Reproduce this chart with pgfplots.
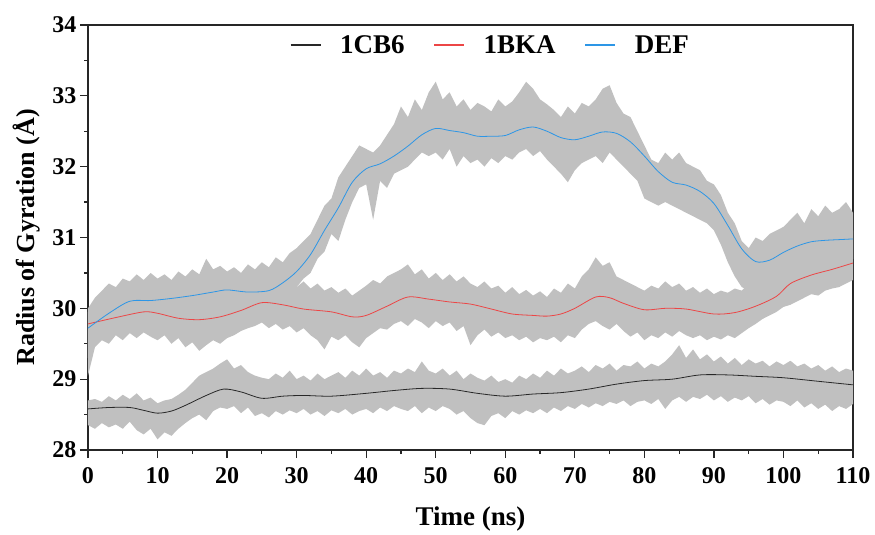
\documentclass[border=0pt]{standalone}
\usepackage{pgfplots}
\pgfplotsset{compat=1.18}
\usepackage{pgfplotstable}
\usepgfplotslibrary{fillbetween}
\usepackage{fontspec}
\setmainfont{Liberation Serif}

\definecolor{bandgray}{RGB}{192,192,192}
\definecolor{colCB}{RGB}{40,40,40}
\definecolor{colBKA}{RGB}{236,70,70}
\definecolor{colDEF}{RGB}{45,150,230}

% 1CB6 smoothed line
\pgfplotstableread{
t y
0 28.58
3 28.60
6 28.60
8 28.56
10 28.52
12 28.55
14 28.63
17 28.77
19.5 28.86
22 28.82
25 28.73
28 28.76
31 28.77
35 28.76
40 28.80
44 28.84
48 28.87
52 28.86
56 28.80
60 28.76
64 28.79
68 28.81
72 28.86
76 28.93
80 28.98
84 29.00
88 29.06
92 29.06
96 29.04
100 29.02
105 28.97
110 28.92
}\tabCBline

% 1BKA smoothed line
\pgfplotstableread{
t y
0 29.78
4 29.87
8 29.95
10 29.93
13 29.86
16 29.84
19 29.88
22 29.97
25 30.08
28 30.05
31 29.99
35 29.95
38 29.88
40 29.90
43 30.03
46 30.16
49 30.13
52 30.09
55 30.06
58 29.99
61 29.92
64 29.90
66 29.89
68 29.92
70 30.00
73 30.16
75 30.15
77 30.07
80 29.98
83 30.00
86 29.99
90 29.92
93 29.94
96 30.03
99 30.17
101 30.35
104 30.47
107 30.55
110 30.64
}\tabBKAline

% DEF smoothed line
\pgfplotstableread{
t y
0 29.72
3 29.93
6 30.10
9 30.11
12 30.14
15 30.18
18 30.23
20 30.26
23 30.23
26 30.25
28 30.36
30 30.52
32 30.76
34 31.10
36 31.42
38 31.78
40 31.97
42 32.04
44 32.15
46 32.29
48 32.45
50 32.54
52 32.51
54 32.48
56 32.43
58 32.43
60 32.44
62 32.52
64 32.56
66 32.50
68 32.41
70 32.38
72 32.43
74 32.49
76 32.47
78 32.35
80 32.15
82 31.93
84 31.78
86 31.74
88 31.65
90 31.48
92 31.17
94 30.84
96 30.66
98 30.68
100 30.79
102 30.88
104 30.94
106 30.96
108 30.97
110 30.98
}\tabDEFline

% 1CB6 raw band
\pgfplotstableread{
t lo hi
0 28.35 28.70
1 28.30 28.72
2 28.38 28.68
3 28.32 28.76
4 28.36 28.70
5 28.30 28.78
6 28.40 28.72
7 28.28 28.80
8 28.22 28.70
9 28.30 28.74
10 28.15 28.66
11 28.25 28.70
12 28.20 28.72
13 28.30 28.78
14 28.38 28.85
15 28.45 28.95
16 28.50 29.05
17 28.42 29.10
18 28.55 29.15
19 28.60 29.22
20 28.58 29.28
21 28.62 29.15
22 28.52 29.20
23 28.60 29.10
24 28.48 29.05
25 28.52 29.02
26 28.46 29.00
27 28.55 29.08
28 28.50 29.02
29 28.56 29.12
30 28.52 29.00
31 28.58 29.05
32 28.50 28.98
33 28.55 29.08
34 28.48 29.00
35 28.56 29.05
36 28.52 29.10
37 28.58 29.02
38 28.50 29.12
39 28.55 29.05
40 28.58 29.15
41 28.52 29.05
42 28.60 29.10
43 28.55 29.02
44 28.62 29.12
45 28.58 29.08
46 28.55 29.15
47 28.62 29.10
48 28.52 29.25
49 28.60 29.12
50 28.55 29.08
51 28.62 29.15
52 28.58 29.05
53 28.50 29.12
54 28.55 29.00
55 28.45 29.08
56 28.38 29.02
57 28.35 28.98
58 28.48 29.05
59 28.52 28.96
60 28.45 29.00
61 28.55 28.95
62 28.50 29.05
63 28.56 29.00
64 28.52 29.08
65 28.58 29.02
66 28.52 29.12
67 28.60 29.05
68 28.55 29.15
69 28.62 29.08
70 28.58 29.12
71 28.65 29.18
72 28.60 29.10
73 28.66 29.20
74 28.62 29.15
75 28.68 29.22
76 28.65 29.12
77 28.70 29.20
78 28.62 29.18
79 28.68 29.25
80 28.70 29.15
81 28.65 29.22
82 28.72 29.18
83 28.58 29.25
84 28.70 29.35
85 28.75 29.48
86 28.68 29.30
87 28.75 29.42
88 28.72 29.28
89 28.78 29.35
90 28.70 29.25
91 28.76 29.32
92 28.68 29.22
93 28.74 29.30
94 28.70 29.20
95 28.76 29.28
96 28.66 29.22
97 28.72 29.26
98 28.64 29.18
99 28.70 29.25
100 28.68 29.20
101 28.62 29.26
102 28.70 29.18
103 28.60 29.22
104 28.66 29.15
105 28.58 29.20
106 28.64 29.12
107 28.55 29.18
108 28.62 29.10
109 28.58 29.15
110 28.65 29.12
}\cbband

% 1BKA raw band
\pgfplotstableread{
t lo hi
0 29.05 29.95
1 29.45 30.05
2 29.55 30.10
3 29.50 30.20
4 29.62 30.15
5 29.55 30.28
6 29.65 30.20
7 29.58 30.32
8 29.66 30.25
9 29.60 30.35
10 29.55 30.22
11 29.62 30.30
12 29.50 30.20
13 29.58 30.28
14 29.45 30.18
15 29.52 30.25
16 29.40 30.20
17 29.48 30.30
18 29.55 30.22
19 29.50 30.32
20 29.58 30.25
21 29.62 30.38
22 29.68 30.30
23 29.72 30.42
24 29.75 30.35
25 29.80 30.48
26 29.72 30.38
27 29.78 30.45
28 29.70 30.35
29 29.75 30.42
30 29.66 30.30
31 29.72 30.38
32 29.62 30.28
33 29.55 30.35
34 29.42 30.25
35 29.60 30.30
36 29.55 30.22
37 29.62 30.28
38 29.52 30.18
39 29.45 30.25
40 29.58 30.32
41 29.65 30.40
42 29.72 30.35
43 29.70 30.45
44 29.78 30.50
45 29.82 30.55
46 29.75 30.62
47 29.85 30.48
48 29.80 30.55
49 29.72 30.42
50 29.82 30.50
51 29.75 30.40
52 29.80 30.48
53 29.68 30.38
54 29.75 30.45
55 29.48 30.35
56 29.62 30.30
57 29.70 30.38
58 29.60 30.28
59 29.66 30.32
60 29.58 30.22
61 29.62 30.30
62 29.55 30.20
63 29.60 30.26
64 29.52 30.18
65 29.58 30.24
66 29.55 30.16
67 29.60 30.28
68 29.52 30.22
69 29.62 30.35
70 29.58 30.28
71 29.70 30.45
72 29.78 30.55
73 29.82 30.72
74 29.75 30.60
75 29.70 30.65
76 29.78 30.45
77 29.68 30.40
78 29.60 30.35
79 29.66 30.30
80 29.55 30.25
81 29.62 30.32
82 29.58 30.28
83 29.66 30.38
84 29.60 30.30
85 29.68 30.35
86 29.62 30.25
87 29.58 30.30
88 29.62 30.22
89 29.55 30.28
90 29.60 30.20
91 29.56 30.25
92 29.62 30.22
93 29.58 30.28
94 29.65 30.25
95 29.72 30.35
96 29.78 30.42
97 29.85 30.55
98 29.90 30.62
99 29.95 30.70
100 30.02 30.78
101 30.05 30.85
102 30.10 30.92
103 30.15 30.88
104 30.20 30.98
105 30.18 31.05
106 30.25 31.00
107 30.28 31.12
108 30.30 31.05
109 30.35 31.20
110 30.40 31.10
}\bkaband

% DEF raw band
\pgfplotstableread{
t lo hi
0 29.30 30.00
1 29.50 30.15
2 29.62 30.25
3 29.70 30.35
4 29.75 30.30
5 29.82 30.42
6 29.85 30.38
7 29.80 30.48
8 29.88 30.40
9 29.82 30.50
10 29.90 30.42
11 29.85 30.48
12 29.92 30.40
13 29.86 30.52
14 29.94 30.45
15 29.88 30.55
16 29.96 30.48
17 29.90 30.70
18 29.98 30.55
19 29.92 30.60
20 29.98 30.52
21 29.92 30.58
22 29.96 30.50
23 29.90 30.62
24 29.95 30.55
25 29.90 30.65
26 29.98 30.58
27 30.02 30.72
28 30.10 30.65
29 30.22 30.78
30 30.30 30.85
31 30.42 30.95
32 30.50 31.05
33 30.70 31.25
34 30.80 31.45
35 31.05 31.55
36 30.95 31.85
37 31.25 32.00
38 31.50 32.15
39 31.70 32.30
40 31.75 32.25
41 31.25 32.20
42 31.80 32.30
43 31.70 32.45
44 31.90 32.60
45 31.95 32.85
46 32.00 32.70
47 32.10 32.95
48 32.20 32.80
49 32.15 33.05
50 32.20 33.20
51 32.10 32.95
52 32.25 33.05
53 32.00 32.85
54 32.15 32.95
55 32.05 32.80
56 32.10 32.90
57 32.00 32.85
58 32.12 32.78
59 32.05 32.95
60 32.15 32.85
61 32.10 32.92
62 32.20 33.05
63 32.25 33.20
64 32.15 33.10
65 32.22 32.95
66 32.10 32.88
67 32.00 32.80
68 31.90 32.70
69 31.78 32.85
70 31.95 32.75
71 32.05 32.90
72 32.10 32.85
73 32.15 32.95
74 32.05 33.10
75 32.20 33.15
76 32.10 32.90
77 32.00 32.75
78 31.90 32.70
79 31.80 32.50
80 31.55 32.30
81 31.50 32.10
82 31.45 32.05
83 31.50 32.20
84 31.45 32.10
85 31.40 32.20
86 31.35 32.05
87 31.30 32.00
88 31.25 31.95
89 31.20 31.80
90 31.10 31.75
91 30.90 31.60
92 30.65 31.35
93 30.45 31.20
94 30.30 30.95
95 30.25 30.85
96 30.30 31.00
97 30.35 30.95
98 30.40 31.05
99 30.45 31.10
100 30.50 31.15
101 30.55 31.25
102 30.60 31.35
103 30.62 31.20
104 30.65 31.40
105 30.70 31.30
106 30.65 31.45
107 30.72 31.35
108 30.70 31.40
109 30.75 31.50
110 30.70 31.35
}\defband

\begin{document}
\begin{tikzpicture}
\begin{axis}[
  width=765pt, height=425pt, scale only axis,
  xmin=0, xmax=110, ymin=28, ymax=34,
  xtick={0,10,...,110}, ytick={28,29,...,34},
  minor x tick num=1, minor y tick num=1,
  tick align=outside, tick pos=left,
  major tick length=8pt, minor tick length=4pt,
  axis line style={line width=1.4pt, black!85},
  every tick/.style={line width=1.2pt, black!85},
  /pgf/number format/assume math mode=true,
  tick label style={font=\fontsize{24}{24}\selectfont\bfseries},
  xticklabel style={yshift=-6pt},
  xlabel={Time (ns)},
  ylabel={Radius of Gyration (Å)},
  xlabel style={font=\fontsize{27}{27}\selectfont\bfseries, at={(axis description cs:0.5,-0.162)}, anchor=center},
  ylabel style={font=\fontsize{26}{26}\selectfont\bfseries, at={(axis description cs:-0.08,0.5)}, anchor=center},
  legend columns=3,
  legend style={draw=none, fill=none, at={(axis description cs:0.526,0.953)}, anchor=center,
    font=\fontsize{27}{27}\selectfont\bfseries,
    /tikz/every odd column/.append style={column sep=17pt},
    /tikz/every even column/.append style={column sep=27pt}},
  legend image code/.code={\draw[#1] (0pt,0pt) -- (30pt,0pt);},
]
\addlegendimage{draw=colCB, line width=1.1pt}
\addlegendentry{1CB6}
\addlegendimage{draw=colBKA, line width=1.1pt}
\addlegendentry{1BKA}
\addlegendimage{draw=colDEF, line width=1.1pt}
\addlegendentry{DEF}
% raw bands
\addplot[name path=cbhi, draw=none, forget plot] table[x=t, y=hi] {\cbband};
\addplot[name path=cblo, draw=none, forget plot] table[x=t, y=lo] {\cbband};
\addplot[bandgray, forget plot] fill between[of=cbhi and cblo];
\addplot[name path=bkhi, draw=none, forget plot] table[x=t, y=hi] {\bkaband};
\addplot[name path=bklo, draw=none, forget plot] table[x=t, y=lo] {\bkaband};
\addplot[bandgray, forget plot] fill between[of=bkhi and bklo];
\addplot[name path=dfhi, draw=none, forget plot] table[x=t, y=hi] {\defband};
\addplot[name path=dflo, draw=none, forget plot] table[x=t, y=lo] {\defband};
\addplot[bandgray, forget plot] fill between[of=dfhi and dflo];
% smoothed lines
\addplot[colCB, line width=0.8pt, smooth, tension=0.5, forget plot] table[x=t, y=y] {\tabCBline};
\addplot[colBKA, line width=0.8pt, smooth, tension=0.5, forget plot] table[x=t, y=y] {\tabBKAline};
\addplot[colDEF, line width=0.8pt, smooth, tension=0.5, forget plot] table[x=t, y=y] {\tabDEFline};
\end{axis}
\path (current axis.south west) ++(-88pt,-82pt) rectangle ++(875pt,532pt);
\end{tikzpicture}
\end{document}
